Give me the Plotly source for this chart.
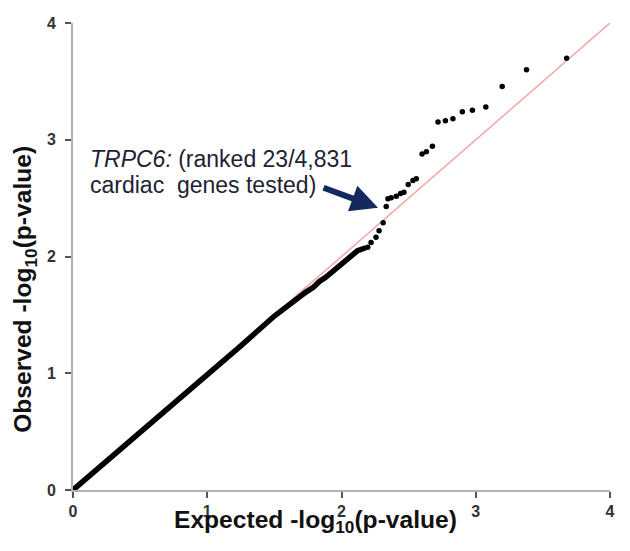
import plotly.graph_objects as go

# Dense part of the QQ curve
dense_x = [0.0, 0.25, 0.5, 0.75, 1.0, 1.25, 1.5, 1.6, 1.66, 1.735, 1.79, 1.835, 1.88, 1.93, 2.007, 2.045, 2.08, 2.12, 2.18]
dense_y = [0.0, 0.245, 0.49, 0.74, 0.99, 1.235, 1.49, 1.58, 1.63, 1.695, 1.735, 1.786, 1.82, 1.87, 1.94, 1.99, 2.01, 2.05, 2.075]

# Sparse tail of individual genes
tail_x = [2.195, 2.22, 2.257, 2.28, 2.31, 2.333, 2.346, 2.37, 2.408, 2.44, 2.465, 2.497, 2.532,
          2.557, 2.60, 2.632, 2.677, 2.719, 2.774, 2.83, 2.90, 2.975, 3.075, 3.197, 3.378, 3.677]
tail_y = [2.08, 2.12, 2.165, 2.22, 2.29, 2.428, 2.495, 2.504, 2.517, 2.54, 2.551, 2.616, 2.652,
          2.667, 2.878, 2.897, 2.945, 3.153, 3.162, 3.18, 3.24, 3.252, 3.28, 3.457, 3.60, 3.699]

# Identity line
ref_x = [0, 4]
ref_y = [0, 4]

tick_vals = [0, 1, 2, 3, 4]
tick_text = ["0", "1", "2", "3", "4"]

FONT = "Arial, Liberation Sans, sans-serif"

fig = go.Figure()
fig.add_trace(go.Scatter(x=ref_x, y=ref_y, mode="lines",
                         line=dict(color="#f4a6a6", width=1.5), hoverinfo="skip"))
fig.add_trace(go.Scatter(x=dense_x, y=dense_y, mode="lines",
                         line=dict(color="#000000", width=5.5)))
fig.add_trace(go.Scatter(x=tail_x, y=tail_y, mode="markers",
                         marker=dict(color="#000000", size=5.5)))

axis_common = dict(
    showgrid=False, zeroline=False, showline=True, linecolor="#b3b3b3", linewidth=2,
    ticks="outside", ticklen=6, tickwidth=1.5, tickcolor="#555555",
    tickvals=tick_vals, ticktext=tick_text, ticklabeloverflow="allow",
    tickfont=dict(family=FONT, size=16, color="#333333", weight="bold"),
)

fig.update_xaxes(range=[0, 4], ticklabelstandoff=0, **axis_common)
fig.update_yaxes(range=[0, 4], ticklabelstandoff=6, **axis_common)

annotations = [
    # axis titles
    dict(text="<b>Expected -log<sub>10</sub>(p-value)</b>", xref="paper", yref="paper",
         x=0.451, y=-0.067, xanchor="center", yanchor="middle", showarrow=False,
         font=dict(family=FONT, size=24.6, color="#111111")),
    dict(text="<b>Observed -log<sub>10</sub>(p-value)</b>", xref="paper", yref="paper",
         x=-0.09, y=0.43, xanchor="center", yanchor="middle", showarrow=False, textangle=-90,
         font=dict(family=FONT, size=24.6, color="#111111")),
    # TRPC6 label
    dict(text="<i>TRPC6:</i> (ranked 23/4,831", xref="x", yref="y", x=0.11, y=2.832,
         xanchor="left", yanchor="middle", showarrow=False,
         font=dict(family=FONT, size=23, color="#222233")),
    dict(text="cardiac  genes tested)", xref="x", yref="y", x=0.11, y=2.615,
         xanchor="left", yanchor="middle", showarrow=False,
         font=dict(family=FONT, size=23, color="#222233")),
    # arrow
    dict(text="", x=2.272, y=2.417, xref="x", yref="y", axref="x", ayref="y",
         ax=1.855, ay=2.594, showarrow=True, arrowhead=2, arrowsize=0.9, arrowwidth=6,
         arrowcolor="#142a5c", standoff=0),
]

# page body has an 8px default margin, so the figure is 8px smaller and shifted
fig.update_layout(
    width=622, height=543,
    margin=dict(l=65, r=20, t=7, b=61),
    plot_bgcolor="white", paper_bgcolor="white",
    showlegend=False,
    annotations=annotations,
)

fig.write_html("out.html")
